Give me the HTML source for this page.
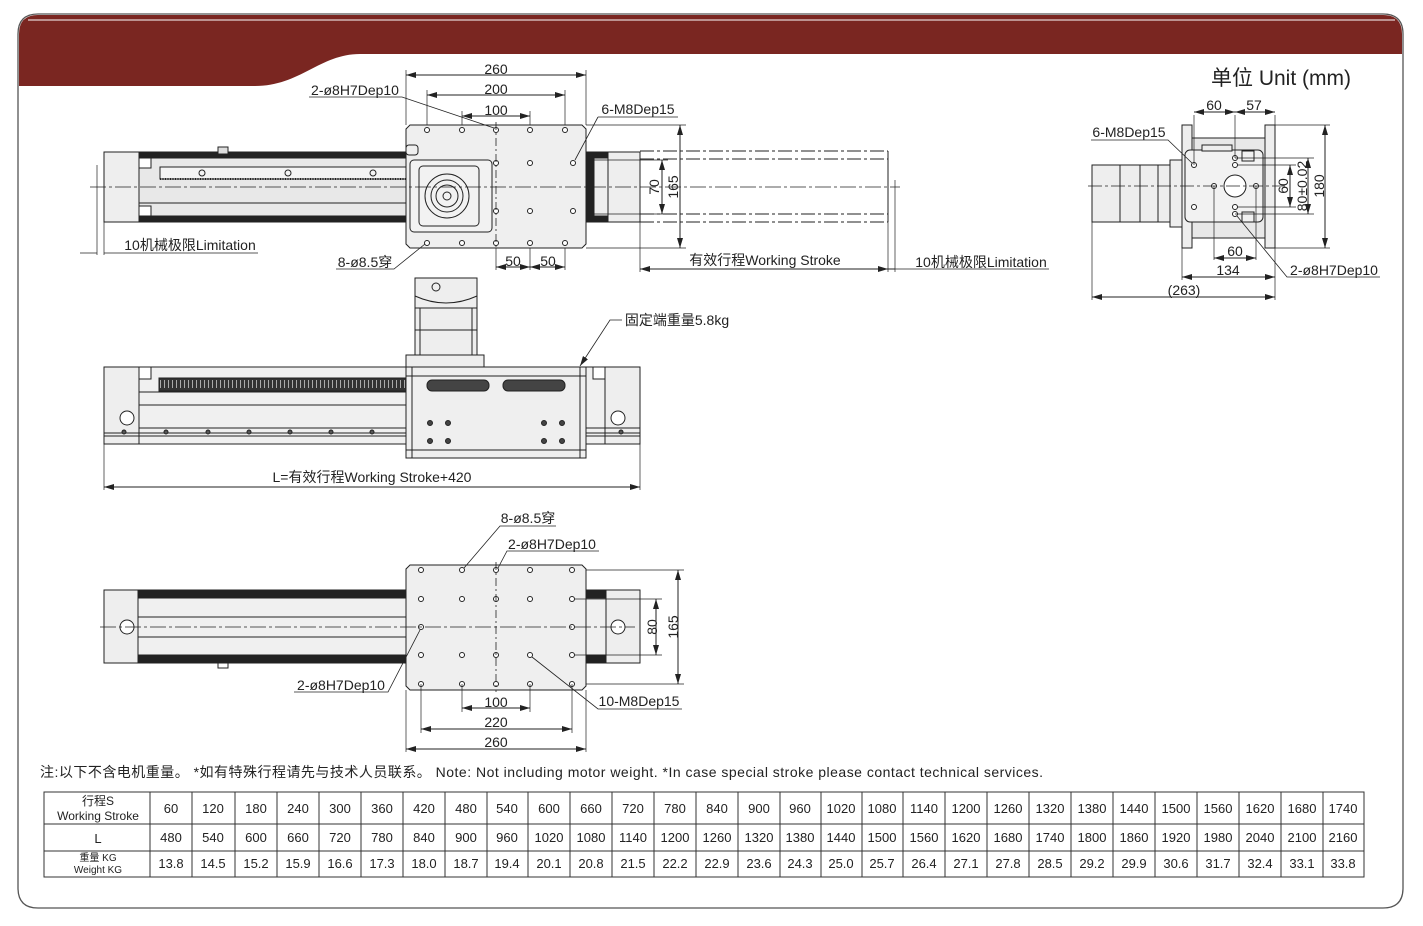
<!DOCTYPE html>
<html><head><meta charset="utf-8"><style>
html,body{margin:0;padding:0;background:#fff;}
svg{display:block;font-family:"Liberation Sans","Noto Sans CJK SC",sans-serif;}
</style></head><body>
<svg width="1423" height="926" viewBox="0 0 1423 926" xmlns="http://www.w3.org/2000/svg">
<defs>
<marker id="a" viewBox="0 0 10 6" refX="10" refY="3" markerWidth="10" markerHeight="6" orient="auto-start-reverse" markerUnits="userSpaceOnUse"><path d="M0,0L10,3L0,6z" fill="#222"/></marker>
</defs>
<path d="M38,14 H1383 Q1403,14 1403,34 V888 Q1403,908 1383,908 H38 Q18,908 18,888 V34 Q18,14 38,14Z" fill="#fff" stroke="#555" stroke-width="1.3"/>
<path d="M38,15 H1383 Q1402,15 1402,34 V54 H360 C320,54 300,86 255,86 H19 V34 Q19,15 38,15Z" fill="#7a2621"/>
<line x1="28" y1="20" x2="1395" y2="20" stroke="#fff" stroke-width="1"/>

<g stroke="#222" stroke-width="1" fill="none">
<rect x="104" y="152" width="35" height="70" fill="#eee"/>
<rect x="139" y="152" width="267" height="70" fill="#e8e8e8"/>
<rect x="139" y="152" width="267" height="6" fill="#222"/>
<rect x="139" y="216" width="267" height="6" fill="#222"/>
<rect x="139" y="158" width="12" height="10" fill="#fff"/>
<rect x="139" y="206" width="12" height="10" fill="#fff"/>
<rect x="160" y="167" width="246" height="12" fill="#f4f4f4"/>
<line x1="160" y1="179" x2="406" y2="179" stroke-dasharray="1 1.5" stroke-width="2"/>
<line x1="139" y1="203" x2="406" y2="203"/>
<circle cx="202" cy="173" r="3"/><circle cx="288" cy="173" r="3"/><circle cx="373" cy="173" r="3"/>
<rect x="218" y="147" width="10" height="7" fill="#ddd"/>
<rect x="586" y="152" width="54" height="70" fill="#eee"/>
<rect x="586" y="152" width="22" height="70" fill="#222"/>
<rect x="594" y="158" width="14" height="58" fill="#eee"/>
<path d="M640,151 H888 M640,222 H888 M640,159 H888 M640,214 H888" stroke-dasharray="14 3 3 3"/>
<line x1="888" y1="151" x2="888" y2="222"/>
<path d="M410,125 H582 L586,129 V244 L582,248 H410 L406,244 V129Z" fill="#efefef"/>
<rect x="410" y="160" width="82" height="72" rx="4" fill="#f2f2f2"/>
<rect x="419" y="166" width="60" height="60" rx="4"/>
<circle cx="447" cy="196" r="22"/><circle cx="447" cy="196" r="16"/><circle cx="447" cy="196" r="11"/><circle cx="447" cy="196" r="4"/>
<rect x="406" y="145" width="12" height="10" rx="3"/>
<g fill="#fff">
<circle cx="427" cy="130" r="2.5"/><circle cx="462" cy="130" r="2.5"/><circle cx="496" cy="130" r="2.5"/><circle cx="530" cy="130" r="2.5"/><circle cx="565" cy="130" r="2.5"/>
<circle cx="427" cy="243" r="2.5"/><circle cx="462" cy="243" r="2.5"/><circle cx="496" cy="243" r="2.5"/><circle cx="530" cy="243" r="2.5"/><circle cx="565" cy="243" r="2.5"/>
<circle cx="496" cy="163" r="2.5"/><circle cx="530" cy="163" r="2.5"/><circle cx="573" cy="163" r="2.5"/>
<circle cx="496" cy="211" r="2.5"/><circle cx="530" cy="211" r="2.5"/><circle cx="573" cy="211" r="2.5"/>
</g>
<path d="M90,187 H900" stroke-dasharray="16 3 3 3" stroke-width="0.8"/>
<path d="M496,122 V250" stroke-dasharray="8 3 2 3" stroke-width="0.8"/>
<path d="M406,125 V70 M586,125 V70 M427,125 V90 M565,125 V90 M462,125 V111 M530,125 V111" stroke-width="0.7"/>
<line x1="406" y1="75" x2="586" y2="75" marker-start="url(#a)" marker-end="url(#a)"/>
<line x1="427" y1="95" x2="565" y2="95" marker-start="url(#a)" marker-end="url(#a)"/>
<line x1="462" y1="116" x2="530" y2="116" marker-start="url(#a)" marker-end="url(#a)"/>
<path d="M309,97 H402 L494,128" stroke-width="0.8"/>
<path d="M598,117 H678 M598,117 L575,160" stroke-width="0.8"/>
<path d="M496,248 V270 M530,248 V270 M565,248 V270" stroke-width="0.7"/>
<line x1="496" y1="267" x2="530" y2="267" marker-start="url(#a)" marker-end="url(#a)"/>
<line x1="530" y1="267" x2="565" y2="267" marker-start="url(#a)" marker-end="url(#a)"/>
<path d="M336,269 H394 L425,244" stroke-width="0.8"/>
<path d="M586,160 H668 M586,214 H668 M586,125 H686 M586,248 H686" stroke-width="0.7"/>
<line x1="662" y1="160" x2="662" y2="214" marker-start="url(#a)" marker-end="url(#a)"/>
<line x1="680" y1="125" x2="680" y2="248" marker-start="url(#a)" marker-end="url(#a)"/>
<path d="M640,222 V272 M888,222 V272 M97,165 V255 M104,222 V255" stroke-width="0.7"/>
<line x1="640" y1="269" x2="888" y2="269" marker-start="url(#a)" marker-end="url(#a)"/>
<path d="M895,180 V272" stroke-width="0.7"/>
<line x1="888" y1="269" x2="895" y2="269"/>
<path d="M895,269 H1049" stroke-width="0.8"/>
<path d="M80,253 H97 M104,253 H258" stroke-width="0.8"/>

<rect x="415" y="278" width="62" height="30" fill="#eee"/>
<circle cx="436" cy="287" r="4"/>
<path d="M415,296 Q446,310 477,296"/>
<rect x="415" y="308" width="62" height="47" fill="#eee"/>
<path d="M420,308 V355 M472,308 V355 M415,330 H477"/>
<rect x="406" y="355" width="78" height="12" fill="#eee"/>
<rect x="104" y="367" width="536" height="77" fill="#f0f0f0"/>
<rect x="104" y="367" width="35" height="77" fill="#eee"/>
<rect x="605" y="367" width="35" height="77" fill="#eee"/>
<rect x="139" y="367" width="12" height="12" fill="#fff"/><rect x="593" y="367" width="12" height="12" fill="#fff"/>
<rect x="159" y="378" width="247" height="13" fill="#333"/>
<path d="M160,384 H406" stroke="#aaa" stroke-dasharray="1 3" stroke-width="8"/>
<path d="M139,392 H406 M139,405 H406 M139,428 H640 M104,433 H640 M104,436 H640" />
<circle cx="127" cy="418" r="7" fill="#fff"/><circle cx="618" cy="418" r="7" fill="#fff"/>
<g fill="#555"><circle cx="124" cy="432" r="2"/><circle cx="166" cy="432" r="2"/><circle cx="208" cy="432" r="2"/><circle cx="249" cy="432" r="2"/><circle cx="290" cy="432" r="2"/><circle cx="331" cy="432" r="2"/><circle cx="372" cy="432" r="2"/><circle cx="621" cy="432" r="2"/></g>
<rect x="406" y="367" width="180" height="91" fill="#efefef"/>
<path d="M406,376 H586 M412,367 V458 M580,367 V458 M406,450 H586"/>
<rect x="427" y="380" width="62" height="11" rx="5" fill="#444"/>
<rect x="503" y="380" width="62" height="11" rx="5" fill="#444"/>
<g fill="#444"><circle cx="430" cy="423" r="2.5"/><circle cx="448" cy="423" r="2.5"/><circle cx="544" cy="423" r="2.5"/><circle cx="562" cy="423" r="2.5"/><circle cx="430" cy="441" r="2.5"/><circle cx="448" cy="441" r="2.5"/><circle cx="544" cy="441" r="2.5"/><circle cx="562" cy="441" r="2.5"/></g>
<path d="M104,444 V490 M640,444 V490" stroke-width="0.7"/>
<line x1="104" y1="487" x2="640" y2="487" marker-start="url(#a)" marker-end="url(#a)"/>
<path d="M622,320 H610 L580,366" stroke-width="0.8" marker-end="url(#a)"/>

<rect x="104" y="590" width="536" height="73" fill="#f0f0f0"/>
<rect x="104" y="590" width="34" height="73" fill="#eee"/>
<rect x="606" y="590" width="34" height="73" fill="#eee"/>
<rect x="138" y="590" width="268" height="8" fill="#222"/>
<rect x="138" y="655" width="268" height="8" fill="#222"/>
<rect x="586" y="590" width="20" height="8" fill="#222"/><rect x="586" y="655" width="20" height="8" fill="#222"/>
<path d="M138,617 H406 M138,637 H406 M138,598 V655"/>
<circle cx="127" cy="627" r="7" fill="#fff"/><circle cx="618" cy="627" r="7" fill="#fff"/>
<rect x="218" y="663" width="10" height="5"/>
<path d="M410,565 H582 L586,569 V686 L582,690 H410 L406,686 V569Z" fill="#efefef"/>
<g fill="#fff">
<circle cx="421" cy="570" r="2.5"/><circle cx="462" cy="570" r="2.5"/><circle cx="496" cy="570" r="2.5"/><circle cx="530" cy="570" r="2.5"/><circle cx="572" cy="570" r="2.5"/>
<circle cx="421" cy="599" r="2.5"/><circle cx="462" cy="599" r="2.5"/><circle cx="496" cy="599" r="2.5"/><circle cx="530" cy="599" r="2.5"/><circle cx="572" cy="599" r="2.5"/>
<circle cx="421" cy="627" r="2.5"/><circle cx="572" cy="627" r="2.5"/>
<circle cx="421" cy="655" r="2.5"/><circle cx="462" cy="655" r="2.5"/><circle cx="496" cy="655" r="2.5"/><circle cx="530" cy="655" r="2.5"/><circle cx="572" cy="655" r="2.5"/>
<circle cx="421" cy="684" r="2.5"/><circle cx="462" cy="684" r="2.5"/><circle cx="496" cy="684" r="2.5"/><circle cx="530" cy="684" r="2.5"/><circle cx="572" cy="684" r="2.5"/>
</g>
<path d="M100,627 H635" stroke-dasharray="16 3 3 3" stroke-width="0.8"/>
<path d="M496,562 V692" stroke-dasharray="8 3 2 3" stroke-width="0.8"/>
<path d="M575,599 H662 M575,655 H662 M586,570 H684 M586,684 H684" stroke-width="0.7"/>
<line x1="656" y1="599" x2="656" y2="655" marker-start="url(#a)" marker-end="url(#a)"/>
<line x1="678" y1="570" x2="678" y2="684" marker-start="url(#a)" marker-end="url(#a)"/>
<path d="M462,684 V712 M530,684 V712 M421,684 V733 M572,684 V733 M406,690 V752 M586,690 V752" stroke-width="0.7"/>
<line x1="462" y1="708" x2="530" y2="708" marker-start="url(#a)" marker-end="url(#a)"/>
<line x1="421" y1="729" x2="572" y2="729" marker-start="url(#a)" marker-end="url(#a)"/>
<line x1="406" y1="749" x2="586" y2="749" marker-start="url(#a)" marker-end="url(#a)"/>
<path d="M556,526 H500 L464,568" stroke-width="0.8"/>
<path d="M599,551 H507 L498,568" stroke-width="0.8"/>
<path d="M294,692 H388 L420,630" stroke-width="0.8"/>
<path d="M682,709 H598 L532,657" stroke-width="0.8"/>

<rect x="1092" y="165" width="78" height="57" fill="#eee"/>
<path d="M1120,165 V222 M1140,165 V222 M1158,165 V222"/>
<rect x="1170" y="160" width="15" height="67" fill="#eee"/>
<rect x="1182" y="125" width="10" height="123" fill="#eee"/>
<rect x="1265" y="125" width="10" height="123" fill="#eee"/>
<rect x="1192" y="138" width="73" height="100" fill="#e8e8e8"/>
<rect x="1185" y="150" width="78" height="72" rx="5" fill="#f2f2f2"/>
<rect x="1202" y="145" width="30" height="6" fill="#eee"/>
<circle cx="1235" cy="186" r="11" fill="#fff"/>
<g fill="#fff"><circle cx="1194" cy="165" r="2.5"/><circle cx="1194" cy="207" r="2.5"/><circle cx="1214" cy="186" r="2.5"/><circle cx="1256" cy="186" r="2.5"/><circle cx="1235" cy="158" r="2.5"/><circle cx="1235" cy="165" r="2.5"/><circle cx="1235" cy="207" r="2.5"/><circle cx="1235" cy="214" r="2.5"/></g>
<rect x="1242" y="151" width="12" height="10"/><rect x="1242" y="212" width="12" height="10"/>
<path d="M1088,186 H1285" stroke-dasharray="14 3 3 3" stroke-width="0.8"/>
<path d="M1194,165 V115 M1235,158 V115 M1275,125 V115 M1214,186 V260 M1256,186 V260 M1182,248 V280 M1275,248 V300 M1092,222 V300" stroke-width="0.7"/>
<line x1="1194" y1="112" x2="1235" y2="112" marker-start="url(#a)" marker-end="url(#a)"/>
<line x1="1235" y1="112" x2="1275" y2="112" marker-start="url(#a)" marker-end="url(#a)"/>
<line x1="1214" y1="258" x2="1256" y2="258" marker-start="url(#a)" marker-end="url(#a)"/>
<line x1="1182" y1="277" x2="1275" y2="277" marker-start="url(#a)" marker-end="url(#a)"/>
<line x1="1092" y1="297" x2="1275" y2="297" marker-start="url(#a)" marker-end="url(#a)"/>
<path d="M1237,165 H1296 M1237,207 H1296 M1235,158 H1314 M1235,214 H1314 M1275,125 H1330 M1275,248 H1330" stroke-width="0.7"/>
<line x1="1290" y1="165" x2="1290" y2="207" marker-start="url(#a)" marker-end="url(#a)"/>
<line x1="1308" y1="158" x2="1308" y2="214" marker-start="url(#a)" marker-end="url(#a)"/>
<line x1="1325" y1="125" x2="1325" y2="248" marker-start="url(#a)" marker-end="url(#a)"/>
<path d="M1091,140 H1168 L1192,163" stroke-width="0.8"/>
<path d="M1380,277 H1287 L1237,216" stroke-width="0.8"/>
</g>

<g font-size="14" fill="#222" text-anchor="middle">
<text x="496" y="74">260</text><text x="496" y="94">200</text><text x="496" y="115">100</text>
<text x="355" y="95">2-ø8H7Dep10</text><text x="638" y="114">6-M8Dep15</text>
<text x="513" y="266">50</text><text x="548" y="266">50</text>
<text x="365" y="267">8-ø8.5穿</text>
<text x="190" y="250">10机械极限Limitation</text>
<text x="765" y="265">有效行程Working Stroke</text>
<text x="981" y="267">10机械极限Limitation</text>
<text transform="translate(659,187) rotate(-90)">70</text>
<text transform="translate(678,187) rotate(-90)">165</text>
<text x="677" y="325">固定端重量5.8kg</text>
<text x="372" y="482">L=有效行程Working Stroke+420</text>
<text x="528" y="523">8-ø8.5穿</text><text x="552" y="549">2-ø8H7Dep10</text>
<text x="341" y="690">2-ø8H7Dep10</text><text x="639" y="706">10-M8Dep15</text>
<text transform="translate(657,627) rotate(-90)">80</text>
<text transform="translate(678,627) rotate(-90)">165</text>
<text x="496" y="707">100</text><text x="496" y="727">220</text><text x="496" y="747">260</text>
<text x="1214" y="110">60</text><text x="1254" y="110">57</text>
<text x="1129" y="137">6-M8Dep15</text>
<text x="1235" y="256">60</text><text x="1228" y="275">134</text><text x="1184" y="295">(263)</text>
<text x="1334" y="275">2-ø8H7Dep10</text>
<text transform="translate(1288,186) rotate(-90)">60</text>
<text transform="translate(1307,186) rotate(-90)">80±0.02</text>
<text transform="translate(1324,186) rotate(-90)">180</text>
<text x="1281" y="85" font-size="21">单位 Unit (mm)</text>
</g>
<text x="40" y="777" font-size="14" fill="#222" textLength="1003" lengthAdjust="spacing">注:以下不含电机重量。 *如有特殊行程请先与技术人员联系。   Note: Not including motor weight.   *In case special stroke please contact technical services.</text>

<g stroke="#333" stroke-width="1" fill="none">
<rect x="44" y="792" width="1320" height="85"/>
<path d="M44,824 H1364 M44,851 H1364"/>
<path d="M150,792V877 M192,792V877 M235,792V877 M277,792V877 M319,792V877 M361,792V877 M403,792V877 M445,792V877 M487,792V877 M528,792V877 M570,792V877 M612,792V877 M654,792V877 M696,792V877 M738,792V877 M780,792V877 M821,792V877 M862,792V877 M903,792V877 M945,792V877 M987,792V877 M1029,792V877 M1071,792V877 M1113,792V877 M1155,792V877 M1197,792V877 M1239,792V877 M1281,792V877 M1323,792V877"/>
</g>
<g font-size="13" fill="#222" text-anchor="middle">
<text x="98" y="805" font-size="12">行程S</text><text x="98" y="820" font-size="12">Working Stroke</text>
<text x="98" y="843">L</text>
<text x="98" y="861" font-size="10">重量 KG</text><text x="98" y="873" font-size="10">Weight KG</text>
</g>
<g font-size="13" fill="#222" text-anchor="middle">
<text y="813"><tspan x="171">60</tspan><tspan x="213">120</tspan><tspan x="256">180</tspan><tspan x="298">240</tspan><tspan x="340">300</tspan><tspan x="382">360</tspan><tspan x="424">420</tspan><tspan x="466">480</tspan><tspan x="507">540</tspan><tspan x="549">600</tspan><tspan x="591">660</tspan><tspan x="633">720</tspan><tspan x="675">780</tspan><tspan x="717">840</tspan><tspan x="759">900</tspan><tspan x="800">960</tspan><tspan x="841">1020</tspan><tspan x="882">1080</tspan><tspan x="924">1140</tspan><tspan x="966">1200</tspan><tspan x="1008">1260</tspan><tspan x="1050">1320</tspan><tspan x="1092">1380</tspan><tspan x="1134">1440</tspan><tspan x="1176">1500</tspan><tspan x="1218">1560</tspan><tspan x="1260">1620</tspan><tspan x="1302">1680</tspan><tspan x="1343">1740</tspan></text>
<text y="842"><tspan x="171">480</tspan><tspan x="213">540</tspan><tspan x="256">600</tspan><tspan x="298">660</tspan><tspan x="340">720</tspan><tspan x="382">780</tspan><tspan x="424">840</tspan><tspan x="466">900</tspan><tspan x="507">960</tspan><tspan x="549">1020</tspan><tspan x="591">1080</tspan><tspan x="633">1140</tspan><tspan x="675">1200</tspan><tspan x="717">1260</tspan><tspan x="759">1320</tspan><tspan x="800">1380</tspan><tspan x="841">1440</tspan><tspan x="882">1500</tspan><tspan x="924">1560</tspan><tspan x="966">1620</tspan><tspan x="1008">1680</tspan><tspan x="1050">1740</tspan><tspan x="1092">1800</tspan><tspan x="1134">1860</tspan><tspan x="1176">1920</tspan><tspan x="1218">1980</tspan><tspan x="1260">2040</tspan><tspan x="1302">2100</tspan><tspan x="1343">2160</tspan></text>
<text y="868"><tspan x="171">13.8</tspan><tspan x="213">14.5</tspan><tspan x="256">15.2</tspan><tspan x="298">15.9</tspan><tspan x="340">16.6</tspan><tspan x="382">17.3</tspan><tspan x="424">18.0</tspan><tspan x="466">18.7</tspan><tspan x="507">19.4</tspan><tspan x="549">20.1</tspan><tspan x="591">20.8</tspan><tspan x="633">21.5</tspan><tspan x="675">22.2</tspan><tspan x="717">22.9</tspan><tspan x="759">23.6</tspan><tspan x="800">24.3</tspan><tspan x="841">25.0</tspan><tspan x="882">25.7</tspan><tspan x="924">26.4</tspan><tspan x="966">27.1</tspan><tspan x="1008">27.8</tspan><tspan x="1050">28.5</tspan><tspan x="1092">29.2</tspan><tspan x="1134">29.9</tspan><tspan x="1176">30.6</tspan><tspan x="1218">31.7</tspan><tspan x="1260">32.4</tspan><tspan x="1302">33.1</tspan><tspan x="1343">33.8</tspan></text>
</g>
</svg>
</body></html>
